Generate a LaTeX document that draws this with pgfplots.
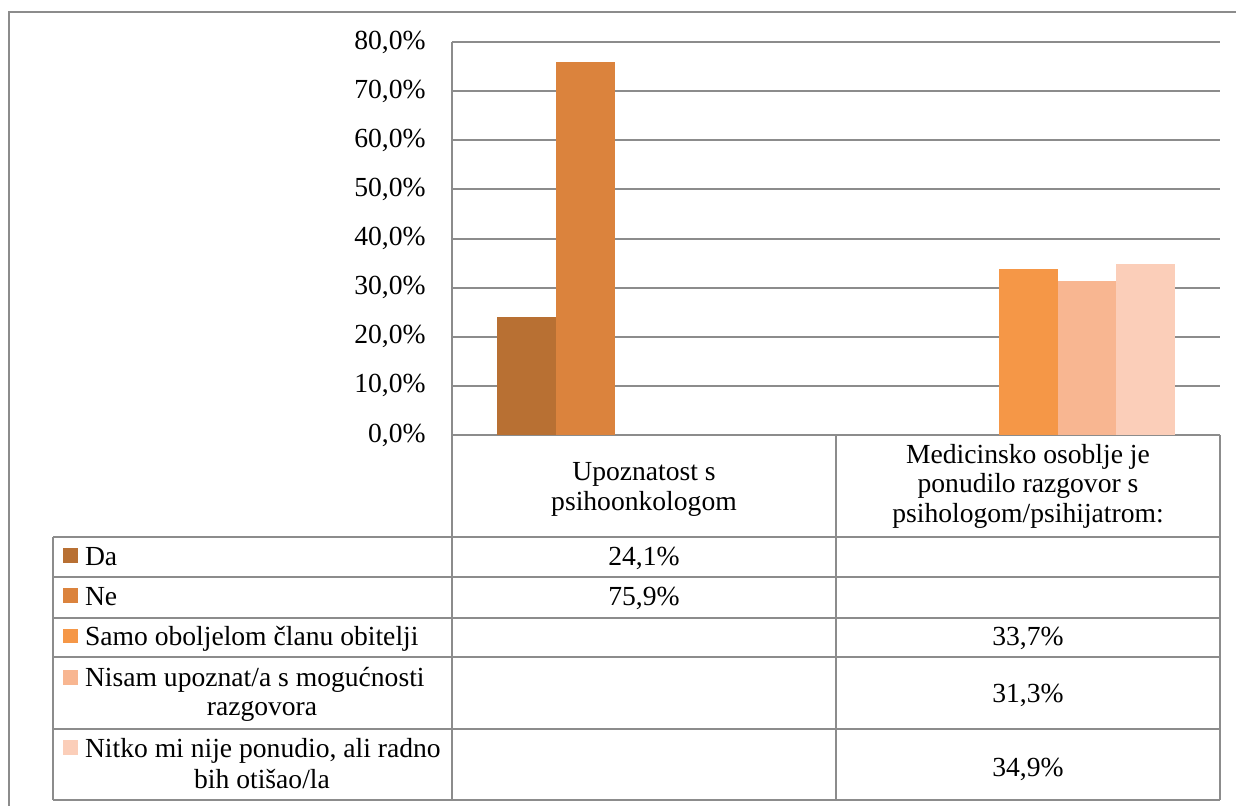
\documentclass[border=0pt]{standalone}
\usepackage{pgfplots}
\pgfplotsset{compat=1.18}
\usepackage{fontspec}
\setmainfont{Liberation Serif}
\definecolor{cDa}{RGB}{184,112,51}
\definecolor{cNe}{RGB}{219,131,61}
\definecolor{cSamo}{RGB}{245,151,71}
\definecolor{cNisam}{RGB}{248,182,145}
\definecolor{cNitko}{RGB}{251,206,185}
\definecolor{gridgray}{RGB}{140,140,140}
\newcommand\tf{\fontsize{13.8}{16}\selectfont}
\begin{document}
\begin{tikzpicture}
\useasboundingbox (0,0) rectangle (618pt,402.5pt);
\begin{axis}[
  at={(226pt,185pt)}, anchor=south west,
  scale only axis, width=384pt, height=196.5pt,
  xmin=0, xmax=2, ymin=0, ymax=80,
  ybar=0pt, bar width=0.1536,
  xtick=\empty, ytick={0,10,...,80},
  ymajorgrids, major grid style={draw=gridgray, line width=1pt},
  axis x line*=bottom, axis y line*=left,
  axis line style={draw=gridgray, line width=1pt, -},
  major tick length=0pt,
  /pgf/number format/assume math mode=true,
  yticklabel style={anchor=east, inner sep=0pt, xshift=-13pt, font=\tf},
  yticklabel={\pgfmathprintnumber[fixed,fixed zerofill,precision=1,use comma]{\tick}\%},
  clip=false]
\addplot[fill=cDa, draw=none] coordinates {(0.5,24.1)};
\addplot[fill=cNe, draw=none] coordinates {(0.5,75.9)};
\addplot[fill=cSamo, draw=none] coordinates {(1.5,33.7)};
\addplot[fill=cNisam, draw=none] coordinates {(1.5,31.3)};
\addplot[fill=cNitko, draw=none] coordinates {(1.5,34.9)};
\end{axis}
\begin{scope}[x=0.5pt, y=0.5pt, line width=1pt]
  % outer frame
  \draw[gridgray] (9,-10) -- (9,793) -- (1250,793);
  % table grid
  \draw[gridgray] (452,370) -- (452,5);
  \draw[gridgray] (836,370) -- (836,5);
  \draw[gridgray] (1220,370) -- (1220,5);
  \draw[gridgray] (53,268) -- (53,5);
  \foreach \yy in {268,228,187,148,76,5} {\draw[gridgray] (53,\yy) -- (1220,\yy);}
  % legend keys
  \fill[cDa] (63,257) rectangle (78,242);
  \fill[cNe] (63,217) rectangle (78,202);
  \fill[cSamo] (63,176) rectangle (78,162);
  \fill[cNisam] (63,135) rectangle (78,120);
  \fill[cNitko] (63,65) rectangle (78,50);
  \begin{scope}[every node/.style={inner sep=0pt, font=\tf}]
  % row labels
  \node[anchor=base west] at (84,240) {Da};
  \node[anchor=base west] at (84,200) {Ne};
  \node[anchor=base west] at (84,160) {Samo oboljelom članu obitelji};
  \node[anchor=base west] at (84,119) {Nisam upoznat/a s mogućnosti};
  \node[anchor=base] at (262,90) {razgovora};
  \node[anchor=base west] at (84,48) {Nitko mi nije ponudio, ali radno};
  \node[anchor=base] at (262,17) {bih otišao/la};
  % headers
  \node[anchor=base] at (644,325) {Upoznatost s};
  \node[anchor=base] at (644,295) {psihoonkologom};
  \node[anchor=base] at (1028,342) {Medicinsko osoblje je};
  \node[anchor=base] at (1028,313) {ponudilo razgovor s};
  \node[anchor=base] at (1028,283) {psihologom/psihijatrom:};
  % values
  \node[anchor=base] at (644,240) {24,1\%};
  \node[anchor=base] at (644,200) {75,9\%};
  \node[anchor=base] at (1028,160) {33,7\%};
  \node[anchor=base] at (1028,103) {31,3\%};
  \node[anchor=base] at (1028,29) {34,9\%};
  \end{scope}
\end{scope}
\end{tikzpicture}
\end{document}
